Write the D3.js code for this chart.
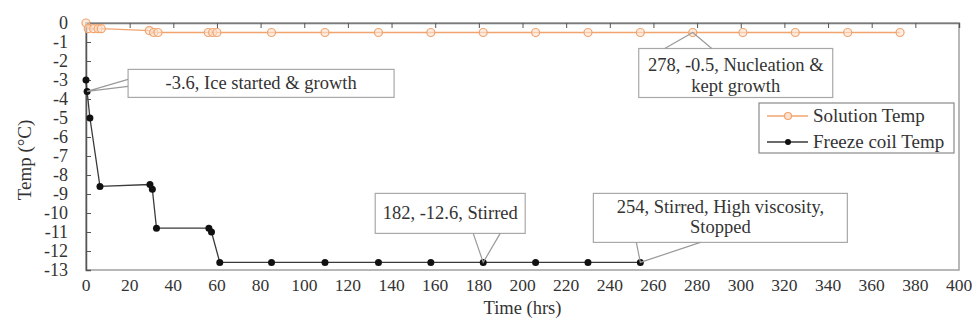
<!DOCTYPE html>
<html>
<head>
<meta charset="utf-8">
<script src="https://cdn.jsdelivr.net/npm/d3@7"></script>
<style>
  html, body { margin: 0; padding: 0; background: #fff; }
  svg { display: block; }
  svg text { font-family: "Liberation Serif", "Times New Roman", Times, serif; }
</style>
</head>
<body>
<svg id="chart" width="978" height="327"></svg>
<script>
// ---- data ----
const solutionTime = [0, 1, 3.5, 5.5, 7, 29, 31, 33, 56, 58, 60, 85, 109.5, 134, 158, 182, 206, 230, 254, 278, 301, 325, 349, 373];
const solutionTemp = [0, -0.3, -0.3, -0.3, -0.3, -0.4, -0.5, -0.5, -0.5, -0.5, -0.5, -0.5, -0.5, -0.5, -0.5, -0.5, -0.5, -0.5, -0.5, -0.5, -0.5, -0.5, -0.5, -0.5];
const coilTime = [0, 0.5, 1.8, 6.4, 29.3, 30.4, 32.3, 56.3, 57.5, 61.3, 85, 109.5, 134, 158, 182, 206, 230, 254];
const coilTemp = [-3.0, -3.6, -5.0, -8.6, -8.5, -8.75, -10.8, -10.8, -11.0, -12.6, -12.6, -12.6, -12.6, -12.6, -12.6, -12.6, -12.6, -12.6];
const xTicks = d3.range(0, 401, 20);
const yTicks = d3.range(0, -14, -1);
const seriesNames = ["Solution Temp", "Freeze coil Temp"];
const annotationTexts = [["-3.6, Ice started & growth"], ["278, -0.5, Nucleation &", "kept growth"], ["182, -12.6, Stirred"], ["254, Stirred, High viscosity,", "Stopped"]];
const annotationAnchors = [[0.5, -3.6], [278, -0.5], [182, -12.6], [254, -12.6]];

// ---- layout ----
const svg = d3.select("#chart");
const x = d3.scaleLinear().domain([0, 400]).range([86, 959]);
const y = d3.scaleLinear().domain([-13, 0]).range([270, 23]);
const orange = "#f2a46e";

// plot border
svg.append("rect").attr("x", x(0)).attr("y", y(0)).attr("width", x(400) - x(0)).attr("height", y(-13) - y(0))
  .attr("fill", "none").attr("stroke", "#a0a0a0").attr("stroke-width", 1.5);

// x axis at y = 0 (ticks pointing down)
const xAxis = d3.axisBottom(x).tickValues(xTicks).tickSize(5).tickFormat("");
const gx = svg.append("g").attr("transform", `translate(0,${y(0)})`).call(xAxis);
gx.select(".domain").attr("stroke", "#7a7a7a").attr("stroke-width", 1.5);
gx.selectAll(".tick line").attr("stroke", "#555");

// x tick labels at bottom
svg.append("g").selectAll("text").data(xTicks).join("text")
  .attr("x", d => x(d)).attr("y", 291).attr("text-anchor", "middle")
  .attr("font-size", 17.5).attr("fill", "#333").text(d => d);

// y axis (ticks pointing right)
const yAxis = d3.axisRight(y).tickValues(yTicks).tickSize(5).tickFormat("");
const gy = svg.append("g").attr("transform", `translate(${x(0)},0)`).call(yAxis);
gy.select(".domain").attr("stroke", "#555").attr("stroke-width", 1.5);
gy.selectAll(".tick line").attr("stroke", "#555");
svg.append("g").selectAll("text").data(yTicks).join("text")
  .attr("x", 68).attr("y", d => y(d)).attr("dy", "0.34em").attr("text-anchor", "end")
  .attr("font-size", 18).attr("fill", "#333").text(d => d);

// axis titles
svg.append("text").attr("x", (x(0) + x(400)) / 2).attr("y", 314).attr("text-anchor", "middle")
  .attr("font-size", 18.5).attr("fill", "#333").text("Time (hrs)");
svg.append("text").attr("transform", "translate(31,160) rotate(-90)").attr("text-anchor", "middle")
  .attr("font-size", 19).attr("fill", "#333").text("Temp (°C)");

// lines
const line = d3.line().x(d => x(d[0])).y(d => y(d[1]));
const solData = d3.zip(solutionTime, solutionTemp);
const coilData = d3.zip(coilTime, coilTemp);

svg.append("path").datum(solData).attr("d", line).attr("fill", "none").attr("stroke", orange).attr("stroke-width", 1.3);
svg.append("path").datum(coilData).attr("d", line).attr("fill", "none").attr("stroke", "#3a3a3a").attr("stroke-width", 1.3);

svg.append("g").selectAll("circle").data(solData).join("circle")
  .attr("cx", d => x(d[0])).attr("cy", d => y(d[1])).attr("r", 4)
  .attr("fill", "#fbe3d2").attr("fill-opacity", 0.6).attr("stroke", orange).attr("stroke-width", 1.2);
svg.append("g").selectAll("circle").data(coilData).join("circle")
  .attr("cx", d => x(d[0])).attr("cy", d => y(d[1])).attr("r", 3.5).attr("fill", "#111");

// annotations: box offsets relative to anchor (pixels)
const boxes = [
  { dx: 41, dy: -22, w: 266, h: 28, wedge: [[41, -12], [41, -5]], lineH: 0, ty: 20 },
  { dx: -54, dy: 16, w: 194, h: 49, wedge: [[-28, 16], [19, 16]], lineH: 21, ty: 22 },
  { dx: -108, dy: -69, w: 150, h: 40, wedge: [[-10, -29], [17, -29]], lineH: 0, ty: 26 },
  { dx: -47, dy: -69, w: 254, h: 49, wedge: [[-4, -20], [60, -20]], lineH: 20, ty: 20 }
];
const ann = svg.append("g");
annotationAnchors.forEach((a, i) => {
  const px = x(a[0]), py = y(a[1]);
  const b = boxes[i];
  const w0 = b.wedge[0], w1 = b.wedge[1];
  ann.append("rect").attr("x", px + b.dx).attr("y", py + b.dy).attr("width", b.w).attr("height", b.h)
    .attr("fill", "#fff").attr("stroke", "#a8a8a8").attr("stroke-width", 1.2);
  ann.append("path")
    .attr("d", `M${px + w0[0]},${py + w0[1]} L${px},${py} L${px + w1[0]},${py + w1[1]}`)
    .attr("fill", "none").attr("stroke", "#9a9a9a").attr("stroke-width", 1.2);
  annotationTexts[i].forEach((t, k) => {
    ann.append("text").attr("x", px + b.dx + b.w / 2).attr("y", py + b.dy + b.ty + k * b.lineH)
      .attr("text-anchor", "middle").attr("font-size", 18.5).attr("fill", "#333").text(t);
  });
});

// legend
const lg = svg.append("g");
lg.append("rect").attr("x", 759).attr("y", 103).attr("width", 195).attr("height", 50)
  .attr("fill", "#fff").attr("stroke", "#8a8a8a").attr("stroke-width", 1.2);
seriesNames.forEach((name, i) => {
  const yy = 116 + i * 26;
  lg.append("line").attr("x1", 767).attr("x2", 808).attr("y1", yy).attr("y2", yy)
    .attr("stroke", i === 0 ? orange : "#3a3a3a").attr("stroke-width", 1.3);
  if (i === 0) {
    lg.append("circle").attr("cx", 788).attr("cy", yy).attr("r", 3.5).attr("fill", "#fbe3d2").attr("stroke", orange).attr("stroke-width", 1.2);
  } else {
    lg.append("circle").attr("cx", 788).attr("cy", yy).attr("r", 3).attr("fill", "#111");
  }
  lg.append("text").attr("x", 813).attr("y", yy).attr("dy", "0.33em").attr("font-size", 19).attr("fill", "#333").text(name);
});
</script>
</body>
</html>
